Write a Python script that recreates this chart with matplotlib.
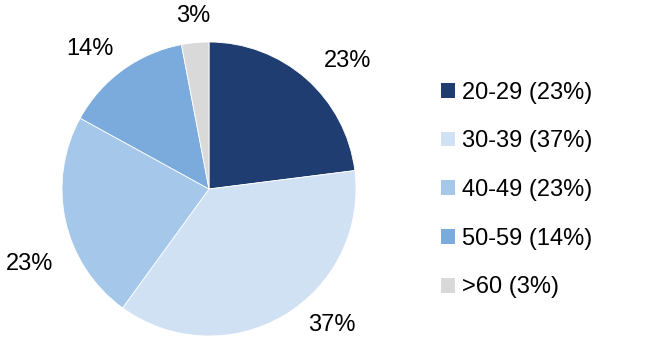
import matplotlib.pyplot as plt
from matplotlib.patches import Patch

plt.rcParams['font.family'] = ['Liberation Sans', 'DejaVu Sans']

groups = ['20-29', '30-39', '40-49', '50-59', '>60']
shares = [23, 37, 23, 14, 3]
colors = ['#1F3D70', '#D1E1F4', '#A5C7EA', '#7BAADD', '#D9D9D9']
# where the % labels sit, in pie-radius units (as placed in the original)
label_pos = [(0.946, 0.868), (0.837, -0.922), (-1.218, -0.507), (-0.810, 0.949), (-0.109, 1.180)]

fig = plt.figure(figsize=(6.51, 3.39), dpi=100)
ax = fig.add_axes([62 / 651, 3 / 339, 294 / 651, 294 / 339])

labels = [str(s) + '%' for s in shares]
wedges, texts = ax.pie(shares, colors=colors, startangle=90, counterclock=False,
                       labels=labels,
                       wedgeprops=dict(edgecolor='white', linewidth=0.6),
                       textprops=dict(fontsize=17, color='black'))
for t, p in zip(texts, label_pos):
    t.set_position(p)
    t.set_horizontalalignment('center')
    t.set_verticalalignment('center')
ax.set_xlim(-1, 1)
ax.set_ylim(-1, 1)
ax.set_aspect('equal')

handles = [Patch(facecolor=c, edgecolor='none') for c in colors]
legend_labels = [g + ' (' + str(s) + '%)' for g, s in zip(groups, shares)]
fig.legend(handles, legend_labels, loc='center left', bbox_to_anchor=(441 / 651, 1 - 190 / 339),
           frameon=False, fontsize=17, handlelength=0.6, handleheight=0.6,
           handletextpad=0.3, labelspacing=1.13, borderpad=0, borderaxespad=0)

fig.savefig('out.png', dpi=100)
